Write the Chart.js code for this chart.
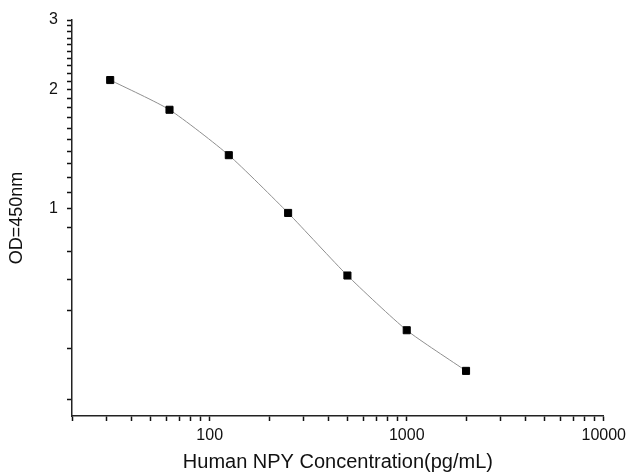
<!DOCTYPE html>
<html>
<head>
<meta charset="utf-8">
<script src="https://cdn.jsdelivr.net/npm/chart.js@4"></script>
<style>
  html, body { margin: 0; padding: 0; background: #fff; }
  canvas { display: block; }
</style>
</head>
<body>
<canvas id="npyChart" width="631" height="476"></canvas>
<script>
// Standard curve data
const concentrations = [31.25, 62.5, 125, 250, 500, 1000, 2000]
const odValues = [2.116, 1.78, 1.367, 0.977, 0.679, 0.494, 0.39]

// Axis ticks
const xTicks = [20, 30, 40, 50, 60, 70, 80, 90, 100, 200, 300, 400, 500, 600, 700, 800, 900,
  1000, 2000, 3000, 4000, 5000, 6000, 7000, 8000, 9000, 10000]
const xLabels = [100, 1000, 10000]
const yTicks = [0.33, 0.445, 0.555, 0.665, 0.78, 0.9, 1, 1.1, 1.2, 1.3, 1.4, 1.5, 1.6, 1.7, 1.8, 1.9,
  2, 2.1, 2.2, 2.3, 2.4, 2.5, 2.6, 2.7, 2.8, 2.9, 3]
const yLabels = [1, 2, 3]

const ctx = document.getElementById('npyChart').getContext('2d')

const fontFamily = 'Liberation Sans, Arial, sans-serif'

new Chart(ctx, {
  type: 'scatter',
  data: {
    datasets: [
      {
        data: concentrations.map((c, i) => ({ x: c, y: odValues[i] })),
        showLine: true,
        tension: 0.2,
        borderColor: '#8f8f8f',
        borderWidth: 1,
        pointStyle: 'rect',
        pointRadius: 5,
        pointBorderWidth: 1,
        pointBackgroundColor: '#000',
        pointBorderColor: '#000'
      }
    ]
  },
  options: {
    responsive: false,
    animation: false,
    layout: { padding: { top: 20, right: 24, left: 0, bottom: 0 } },
    plugins: {
      legend: { display: false },
      tooltip: { enabled: false }
    },
    scales: {
      x: {
        type: 'logarithmic',
        min: 20,
        max: 10000,
        afterBuildTicks: (scale) => {
          scale.ticks = xTicks.map((v) => ({ value: v }))
        },
        afterFit: (scale) => {
          scale.height = 60
        },
        border: { color: '#222', width: 1.5 },
        grid: {
          drawOnChartArea: false,
          tickLength: 5,
          tickColor: '#111',
          tickWidth: 1.5
        },
        ticks: {
          autoSkip: false,
          maxRotation: 0,
          padding: 5,
          color: '#111',
          font: { family: fontFamily, size: 16 },
          callback: (v) => (xLabels.includes(v) ? String(v) : '')
        },
        title: {
          display: true,
          text: 'Human NPY Concentration(pg/mL)',
          color: '#111',
          font: { family: fontFamily, size: 20 },
          padding: { top: 0, bottom: 2 }
        }
      },
      y: {
        type: 'logarithmic',
        min: 0.3,
        max: 3,
        afterBuildTicks: (scale) => {
          scale.ticks = yTicks.map((v) => ({ value: v }))
        },
        afterFit: (scale) => {
          scale.width = 72
        },
        border: { color: '#222', width: 1.5 },
        grid: {
          drawOnChartArea: false,
          tickLength: 5,
          tickColor: '#111',
          tickWidth: 1.5
        },
        ticks: {
          autoSkip: false,
          padding: 9,
          color: '#111',
          font: { family: fontFamily, size: 16 },
          callback: (v) => (yLabels.includes(v) ? String(v) : '')
        },
        title: {
          display: true,
          text: 'OD=450nm',
          color: '#111',
          font: { family: fontFamily, size: 18 },
          padding: { top: 6, bottom: 0 }
        }
      }
    }
  }
})
</script>
</body>
</html>
